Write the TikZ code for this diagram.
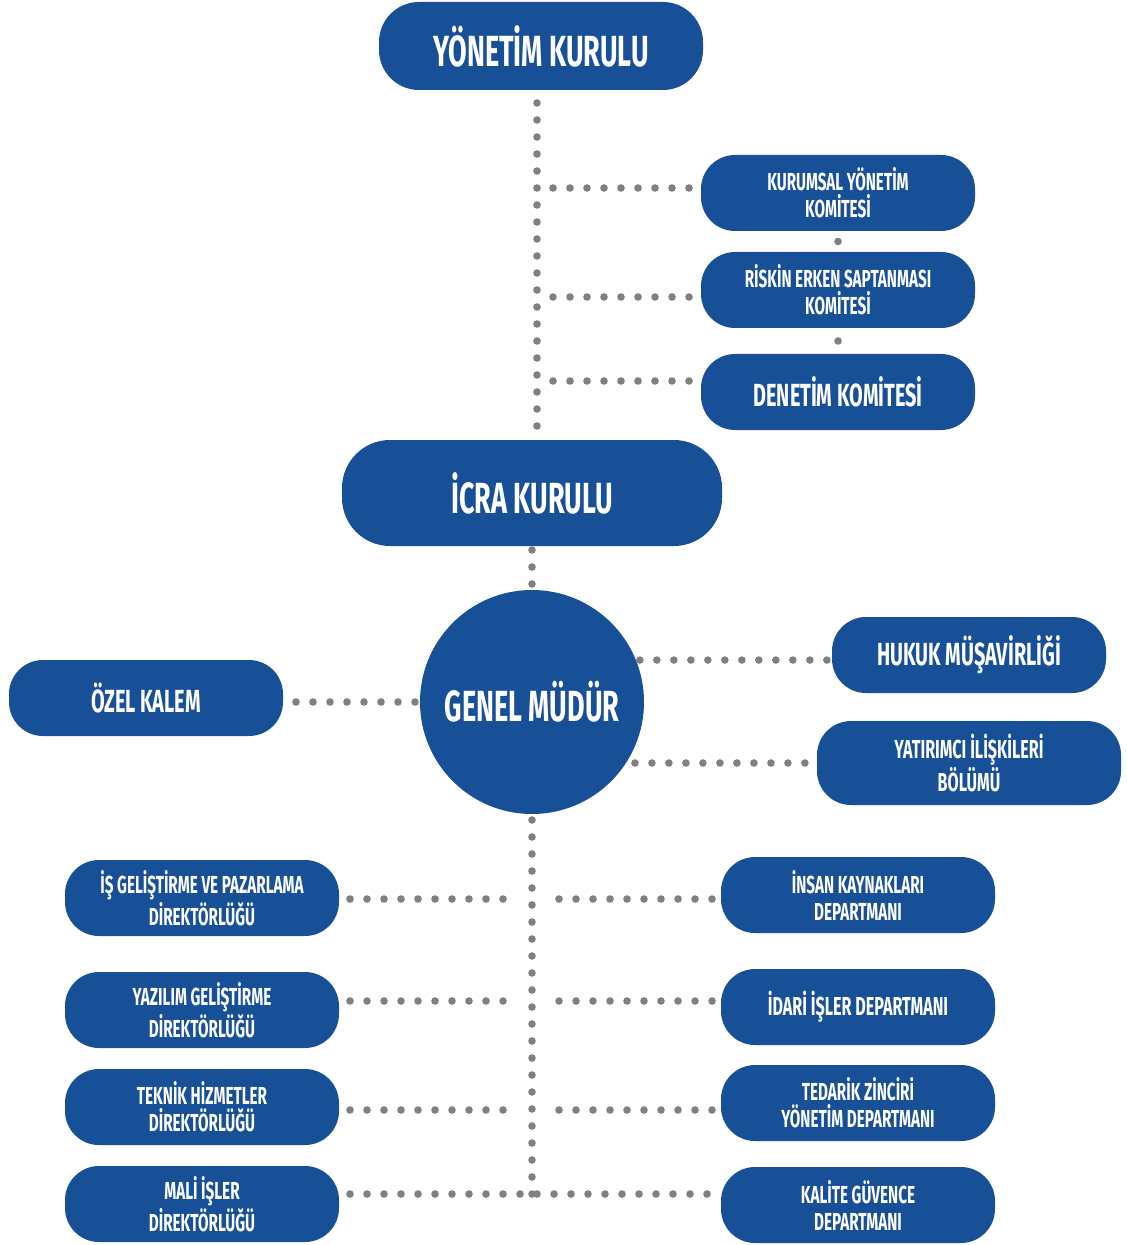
\documentclass[tikz,border=0pt]{standalone}
\usepackage{fontspec}
\newfontfamily\orgfont{Fira Sans}[FakeStretch=0.62]
\definecolor{orgblue}{RGB}{24,80,152}
\definecolor{dotgray}{RGB}{128,128,128}

\begin{document}
\begin{tikzpicture}[x=0.5pt, y=-0.5pt,
    box/.style={fill=orgblue, text=white, rounded corners=17pt, align=center, inner sep=0pt, outer sep=0pt,
      minimum width=137pt, minimum height=38pt,
      font=\orgfont\bfseries\fontsize{12.3}{13.5}\selectfont},
    midbox/.style={box, font=\orgfont\bfseries\fontsize{16}{18}\selectfont},
    bigbox/.style={box, rounded corners=20pt, font=\orgfont\bfseries\fontsize{21.8}{24}\selectfont},
    dotline/.style={draw=dotgray, line width=3.8pt, line cap=round, dash pattern=on 0pt off 8.5pt},
    dot/.style={circle, fill=dotgray, inner sep=0pt, minimum size=3.8pt}]
        \useasboundingbox (0,0) rectangle (1126,1245);

        % Board and committees
        \node[bigbox, minimum width=162pt, minimum height=44pt] (yk) at (541,46) {YÖNETİM KURULU};
        \node[box] (kym) at (838,193) {KURUMSAL YÖNETİM\\KOMİTESİ};
        \node[box] (rsk) at (838,290) {RİSKİN ERKEN SAPTANMASI\\KOMİTESİ};
        \node[midbox] (den) at (838,392) {DENETİM KOMİTESİ};
        \node[bigbox, minimum width=190pt, minimum height=53pt, rounded corners=24pt] (icra) at (532,493) {İCRA KURULU};

        % General manager and staff units
        \node[circle, fill=orgblue, text=white, inner sep=0pt, outer sep=0pt, minimum size=112pt,
          font=\orgfont\bfseries\fontsize{21.8}{24}\selectfont] (gm) at (532,702) {GENEL MÜDÜR};
        \node[midbox] (ozel) at (146,698) {ÖZEL KALEM};
        \node[midbox] (hukuk) at (969,655) {HUKUK MÜŞAVİRLİĞİ};
        \node[box, minimum width=152pt, minimum height=42pt, font=\orgfont\bfseries\fontsize{13}{15}\selectfont] (yat) at (969,763) {YATIRIMCI İLİŞKİLERİ\\BÖLÜMÜ};

        % Directorates (left) and departments (right)
        \node[box] (l1) at (202,898) {İŞ GELİŞTİRME VE PAZARLAMA\\DİREKTÖRLÜĞÜ};
        \node[box] (l2) at (202,1010) {YAZILIM GELİŞTİRME\\DİREKTÖRLÜĞÜ};
        \node[box] (l3) at (202,1107) {TEKNİK HİZMETLER\\DİREKTÖRLÜĞÜ};
        \node[box] (l4) at (202,1204) {MALİ İŞLER\\DİREKTÖRLÜĞÜ};
        \node[box] (r1) at (858,895) {İNSAN KAYNAKLARI\\DEPARTMANI};
        \node[midbox, font=\orgfont\bfseries\fontsize{13}{15}\selectfont] (r2) at (858,1007) {İDARİ İŞLER DEPARTMANI};
        \node[box] (r3) at (858,1103) {TEDARİK ZİNCİRİ\\YÖNETİM DEPARTMANI};
        \node[box] (r4) at (858,1205) {KALİTE GÜVENCE\\DEPARTMANI};

        % Upper spine
        \coordinate (ytop) at (537,103);
        \coordinate (ybot) at (537,427);
        \coordinate (b1) at (537,188);
        \coordinate (b2) at (537,297);
        \coordinate (b3) at (537,381);
        \draw[dotline] (ytop) -- (ybot);
        \draw[dotline, shorten <=8pt, shorten >=5pt] (b1) -- (b1 -| kym.west);
        \draw[dotline, shorten <=8pt, shorten >=5pt] (b2) -- (b2 -| rsk.west);
        \draw[dotline, shorten <=8pt, shorten >=5pt] (b3) -- (b3 -| den.west);
        \path (kym.south) -- node[dot] {} (rsk.north);
        \path (rsk.south) -- node[dot] {} (den.north);
        \draw[dotline, shorten <=2pt, shorten >=2pt] (icra.south) -- (gm.north);

        % Staff lines
        \draw[dotline, shorten <=2.5pt, shorten >=5pt] (gm.west) -- (gm.west -| ozel.east);
        \draw[dotline, shorten <=2pt, shorten >=1.6pt] (gm.22) -- (gm.22 -| hukuk.west);
        \draw[dotline, shorten <=4.5pt, shorten >=5pt] (gm.-33) -- (gm.-33 -| yat.west);

        % Lower spine
        \coordinate (s1) at (532,899);
        \coordinate (s2) at (532,1001);
        \coordinate (s3) at (532,1110);
        \coordinate (s4) at (532,1194);
        \draw[dotline, shorten >=2pt] (s4) -- (gm.south);
        \draw[dotline, shorten <=5.5pt, shorten >=13.5pt] (s1 -| l1.east) -- (s1);
        \draw[dotline, shorten <=5.5pt, shorten >=13.5pt] (s2 -| l2.east) -- (s2);
        \draw[dotline, shorten <=5.5pt, shorten >=13.5pt] (s3 -| l3.east) -- (s3);
        \draw[dotline, shorten <=4.5pt, shorten >=12.5pt] (s1 -| r1.west) -- (s1);
        \draw[dotline, shorten <=4.5pt, shorten >=12.5pt] (s2 -| r2.west) -- (s2);
        \draw[dotline, shorten <=4.5pt, shorten >=12.5pt] (s3 -| r3.west) -- (s3);
        \draw[dotline, shorten <=5.5pt, shorten >=6pt] (s4 -| l4.east) -- (s4 -| r4.west);
\end{tikzpicture}
\end{document}
